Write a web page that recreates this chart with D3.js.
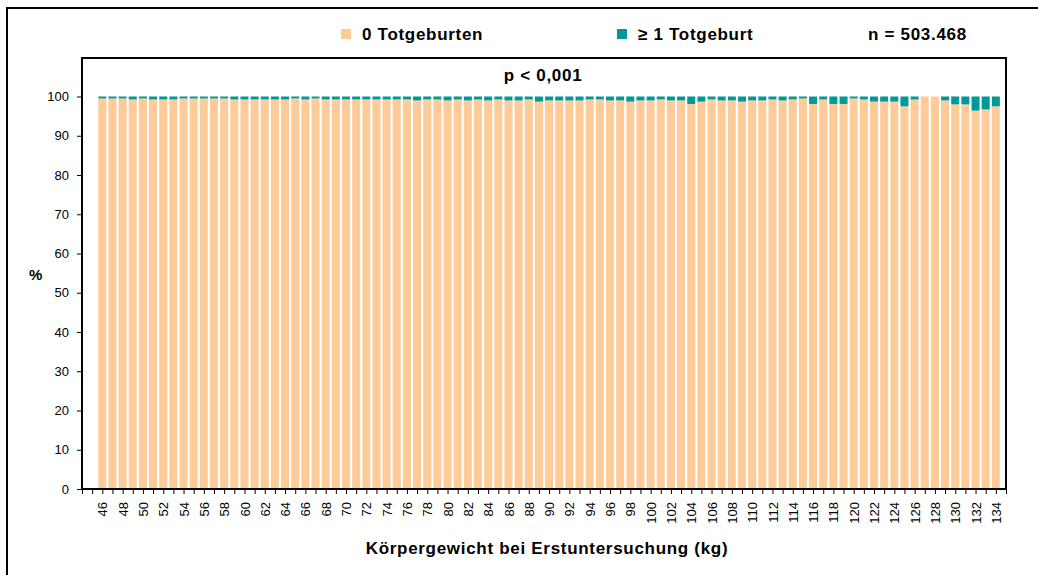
<!DOCTYPE html>
<html>
<head>
<meta charset="utf-8">
<script src="https://cdnjs.cloudflare.com/ajax/libs/d3/7.8.5/d3.min.js"></script>
<style>
  body { margin: 0; background: #fff; }
  svg { display: block; font-family: "Liberation Sans", Arial, sans-serif; }
  .bold { font-weight: bold; font-size: 17px; letter-spacing: 0.7px; }
  .axis text { font-size: 13px; fill: #000; }
  .axis line { stroke: #000; stroke-width: 1; }
  .axis path { display: none; }
</style>
</head>
<body>
<svg id="chart" width="1038" height="575"></svg>
<script>
"use strict";

// body weight classes (kg)
var weights = [46, 47, 48, 49, 50, 51, 52, 53, 54, 55, 56, 57, 58, 59, 60, 61, 62, 63, 64, 65,
  66, 67, 68, 69, 70, 71, 72, 73, 74, 75, 76, 77, 78, 79, 80, 81, 82, 83, 84, 85,
  86, 87, 88, 89, 90, 91, 92, 93, 94, 95, 96, 97, 98, 99, 100, 101, 102, 103, 104, 105,
  106, 107, 108, 109, 110, 111, 112, 113, 114, 115, 116, 117, 118, 119, 120, 121, 122, 123, 124, 125,
  126, 127, 128, 129, 130, 131, 132, 133, 134];

// % with >= 1 stillbirth
var pctStill = [0.5, 0.5, 0.5, 0.75, 0.5, 0.75, 0.75, 0.75, 0.5, 0.5, 0.5, 0.5, 0.5, 0.75, 0.75, 0.75, 0.75, 0.75, 0.75, 0.5,
  0.75, 0.5, 0.75, 0.75, 0.75, 0.75, 0.75, 0.75, 0.75, 0.75, 0.75, 1.0, 0.75, 0.75, 1.0, 0.75, 1.0, 0.75, 1.0, 0.75,
  1.0, 1.0, 0.75, 1.3, 1.0, 1.0, 1.0, 1.0, 0.75, 0.75, 1.0, 1.0, 1.3, 1.0, 1.0, 0.75, 1.0, 1.0, 1.9, 1.3,
  0.75, 1.0, 1.0, 1.3, 1.0, 1.0, 0.75, 1.0, 0.75, 0.5, 1.9, 0.75, 1.9, 1.9, 0.5, 0.75, 1.3, 1.3, 1.3, 2.5,
  0.75, 0, 0, 1.0, 2.0, 2.0, 3.6, 3.3, 2.5];

// % with 0 stillbirths
var pctNone = [99.5, 99.5, 99.5, 99.25, 99.5, 99.25, 99.25, 99.25, 99.5, 99.5, 99.5, 99.5, 99.5, 99.25, 99.25, 99.25, 99.25, 99.25, 99.25, 99.5,
  99.25, 99.5, 99.25, 99.25, 99.25, 99.25, 99.25, 99.25, 99.25, 99.25, 99.25, 99.0, 99.25, 99.25, 99.0, 99.25, 99.0, 99.25, 99.0, 99.25,
  99.0, 99.0, 99.25, 98.7, 99.0, 99.0, 99.0, 99.0, 99.25, 99.25, 99.0, 99.0, 98.7, 99.0, 99.0, 99.25, 99.0, 99.0, 98.1, 98.7,
  99.25, 99.0, 99.0, 98.7, 99.0, 99.0, 99.25, 99.0, 99.25, 99.5, 98.1, 99.25, 98.1, 98.1, 99.5, 99.25, 98.7, 98.7, 98.7, 97.5,
  99.25, 100, 100, 99.0, 98.0, 98.0, 96.4, 96.7, 97.5];

// axis slots: the category axis runs from 44 to 135, only 46..134 hold data
var slots = [44, 45].concat(weights, [135]);
var xLabels = [46, 48, 50, 52, 54, 56, 58, 60, 62, 64, 66, 68, 70, 72, 74, 76, 78, 80, 82, 84, 86, 88, 90,
  92, 94, 96, 98, 100, 102, 104, 106, 108, 110, 112, 114, 116, 118, 120, 122, 124, 126, 128, 130, 132, 134];
var yTicks = [0, 10, 20, 30, 40, 50, 60, 70, 80, 90, 100];

var seriesNames = ["0 Totgeburten", "\u2265 1 Totgeburt"];
var colors = ["#FFCC99", "#009999"];

(function() {
  var svg = d3.select("#chart");
  var plot = { left: 82, right: 1006, top: 58, bottom: 489 };

  var x = d3.scalePoint().domain(slots).range([plot.left, plot.right]);
  var y = d3.scaleLinear().domain([0, 100]).range([plot.bottom, 96.5]);
  var barW = 8;

  // outer frame
  svg.append("rect")
    .attr("x", 7).attr("y", 8).attr("width", 1040).attr("height", 580)
    .attr("fill", "none").attr("stroke", "#000").attr("stroke-width", 2);

  // stacked bars
  var rows = weights.map(function(w, i) { return { w: w, none: pctNone[i], still: pctStill[i] }; });
  var stack = d3.stack().keys(["none", "still"])(rows);

  svg.append("g").selectAll("g")
    .data(stack)
    .join("g")
      .attr("fill", function(d, i) { return colors[i]; })
    .selectAll("rect")
    .data(function(d) { return d; })
    .join("rect")
      .attr("x", function(d) { return x(d.data.w) - barW / 2; })
      .attr("width", barW)
      .attr("y", function(d) { return y(d[1]); })
      .attr("height", function(d) { return Math.max(0, y(d[0]) - y(d[1])); });

  // axes
  svg.append("g")
    .attr("class", "axis")
    .attr("transform", "translate(0," + plot.bottom + ")")
    .call(d3.axisBottom(x).tickSize(5).tickFormat(function(d) {
      return xLabels.indexOf(d) >= 0 ? d : "";
    }))
    .selectAll("text")
      .attr("transform", "rotate(-90)")
      .attr("x", -13)
      .attr("y", 0)
      .attr("dy", "0.35em")
      .style("text-anchor", "end");

  svg.append("g")
    .attr("class", "axis")
    .attr("transform", "translate(" + plot.left + ",0)")
    .call(d3.axisLeft(y).tickValues(yTicks).tickSize(5).tickPadding(8));

  // plot frame
  svg.append("rect")
    .attr("x", plot.left).attr("y", plot.top)
    .attr("width", plot.right - plot.left).attr("height", plot.bottom - plot.top)
    .attr("fill", "none").attr("stroke", "#000").attr("stroke-width", 2);

  // legend
  var legendX = [341, 617];
  seriesNames.forEach(function(name, i) {
    svg.append("rect")
      .attr("x", legendX[i]).attr("y", 29).attr("width", 10).attr("height", 10)
      .attr("fill", colors[i]);
    svg.append("text")
      .attr("class", "bold")
      .attr("x", legendX[i] + 21).attr("y", 40)
      .text(name);
  });

  svg.append("text").attr("class", "bold").attr("x", 868).attr("y", 40).text("n = 503.468");
  svg.append("text").attr("class", "bold").attr("x", 543).attr("y", 81)
    .style("text-anchor", "middle").text("p < 0,001");

  // axis titles
  svg.append("text").attr("class", "bold").attr("x", 547).attr("y", 554)
    .style("text-anchor", "middle").text("Körpergewicht bei Erstuntersuchung (kg)");
  svg.append("text").attr("class", "bold").attr("x", 36).attr("y", 280)
    .style("text-anchor", "middle").style("font-size", "15px").text("%");
})();
</script>
</body>
</html>
